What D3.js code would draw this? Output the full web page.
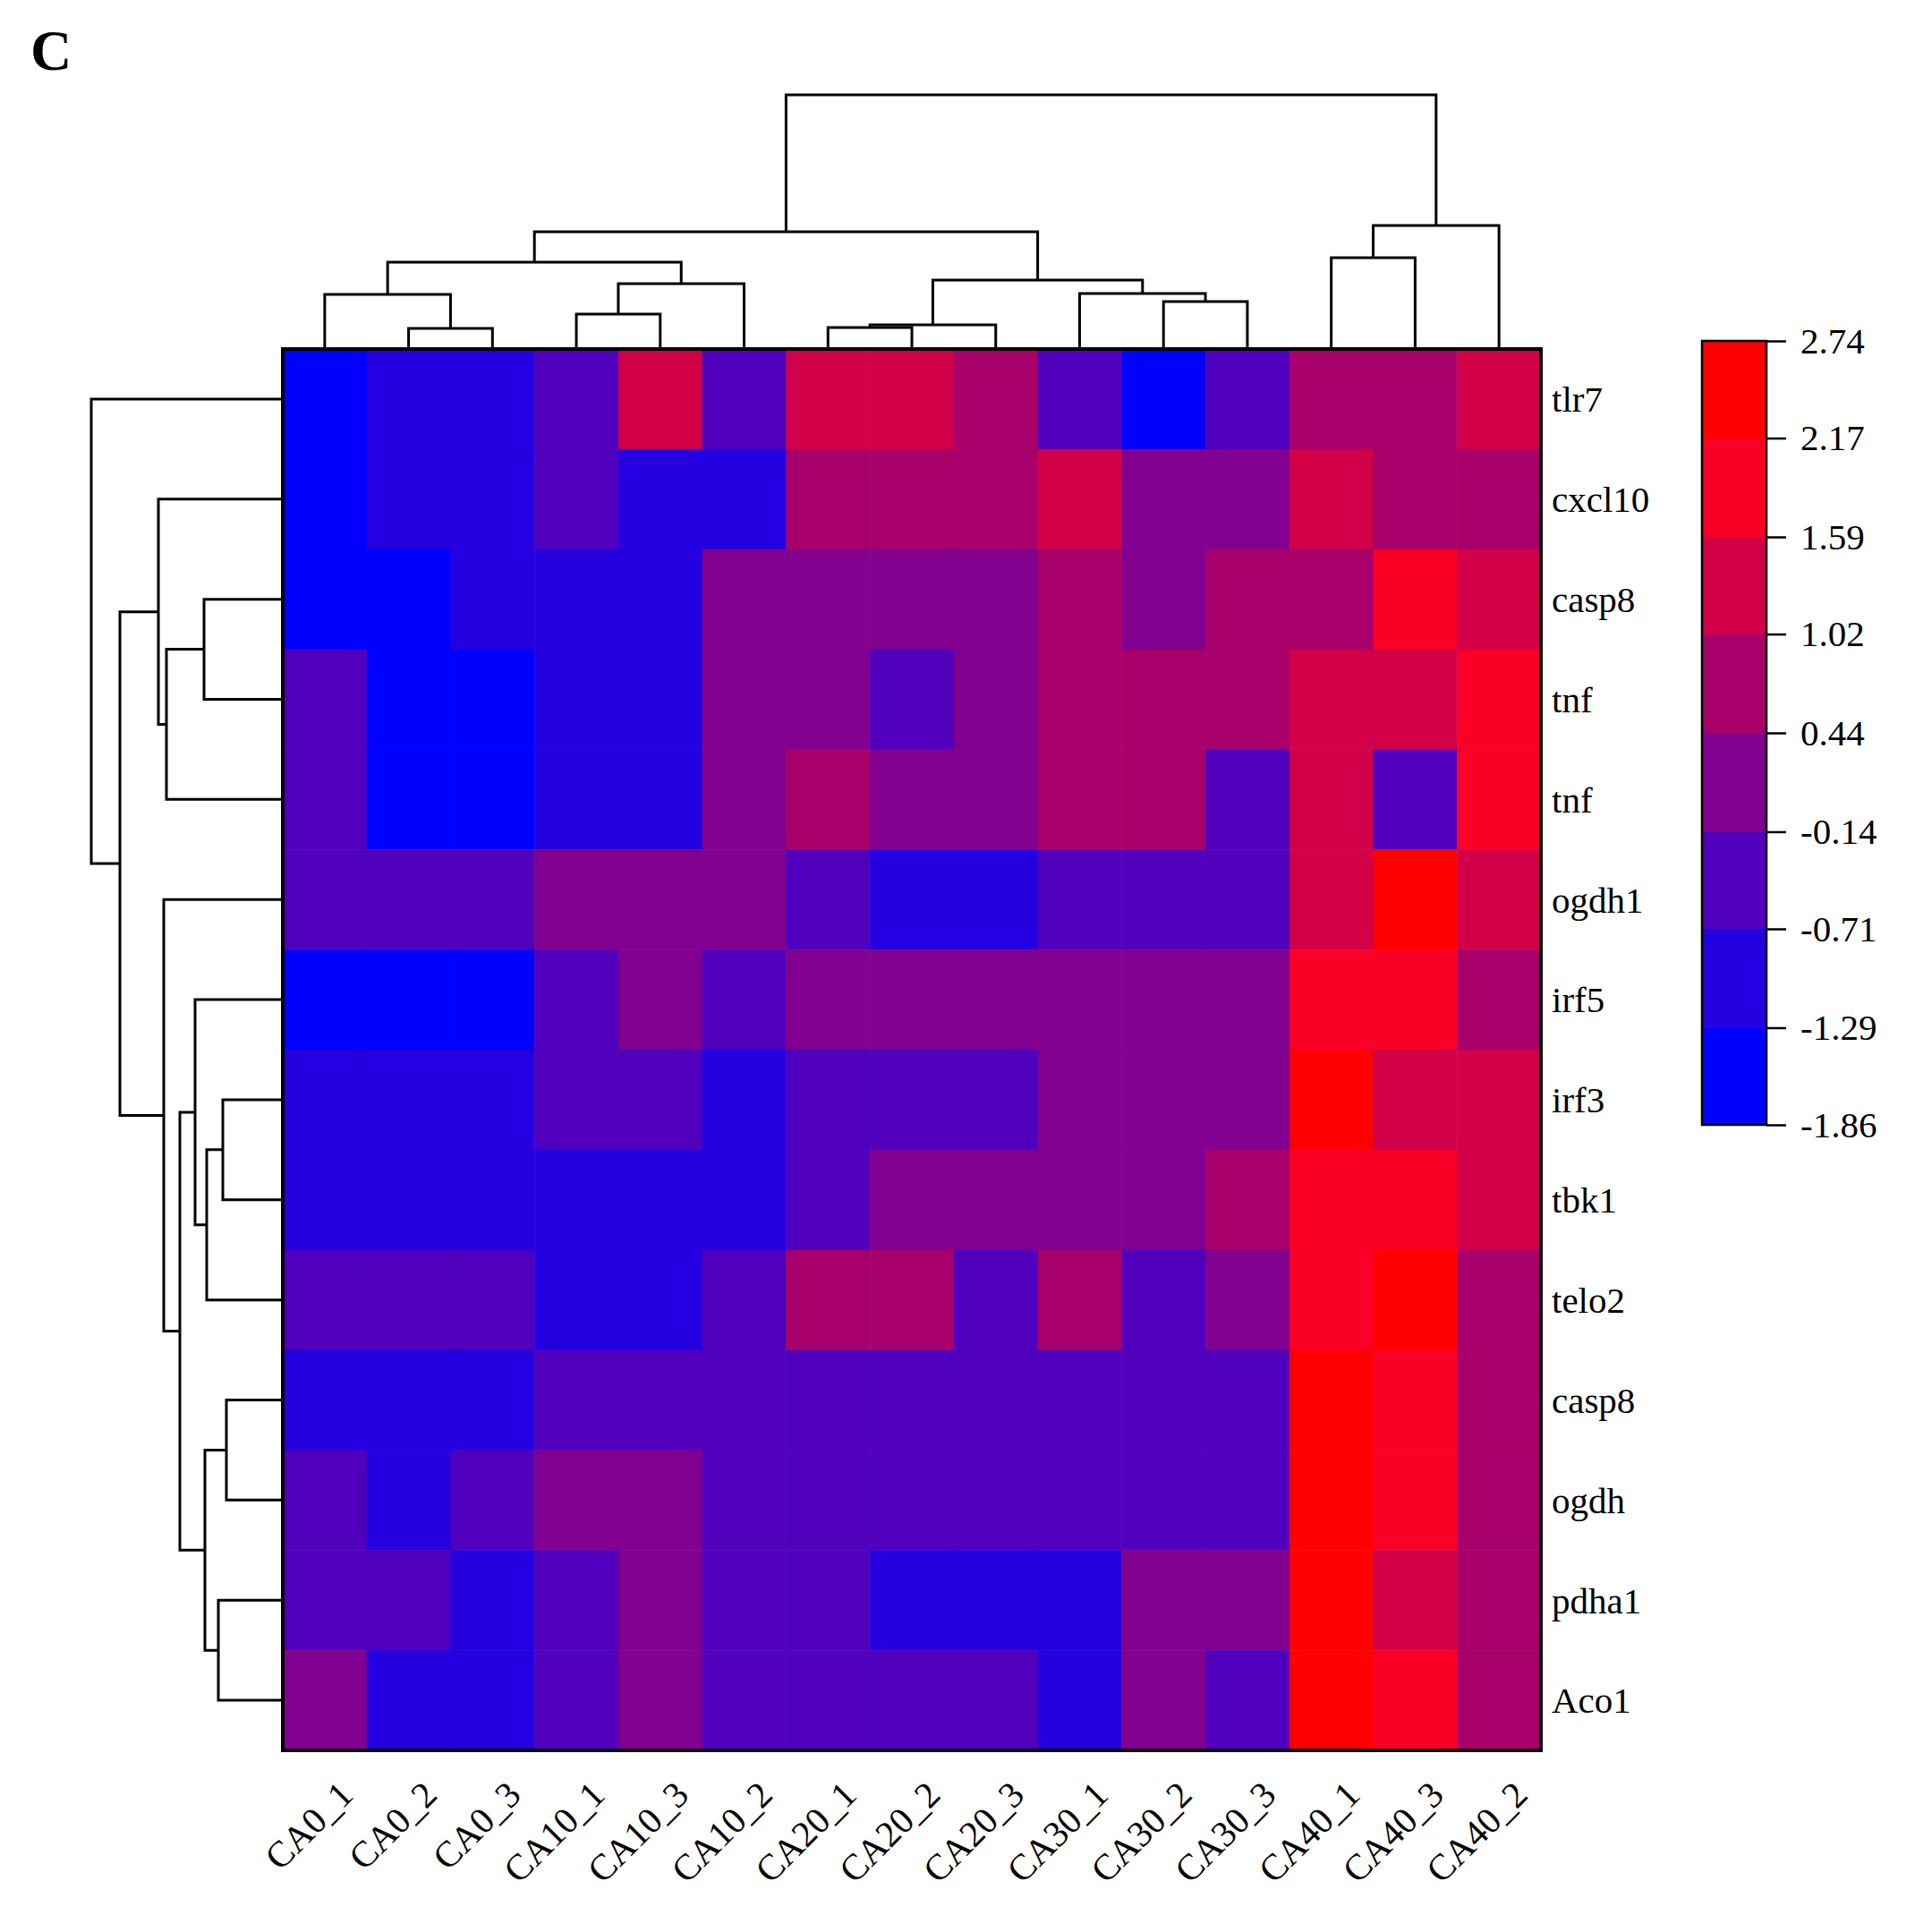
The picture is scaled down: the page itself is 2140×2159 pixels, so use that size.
<!DOCTYPE html>
<html>
<head>
<meta charset="utf-8">
<script src="https://cdn.jsdelivr.net/npm/d3@7"></script>
<style>
  body { margin: 0; background: #fff; }
  text { font-family: "Liberation Serif", "Times New Roman", serif; }
</style>
</head>
<body>
<svg id="chart" width="2140" height="2159"></svg>
<script>
// columns, in dendrogram order
const samples = ["CA0_1", "CA0_2", "CA0_3", "CA10_1", "CA10_3", "CA10_2", "CA20_1", "CA20_2",
    "CA20_3", "CA30_1", "CA30_2", "CA30_3", "CA40_1", "CA40_3", "CA40_2"];
// rows, in dendrogram order
const genes = ["tlr7", "cxcl10", "casp8", "tnf", "tnf", "ogdh1", "irf5", "irf3", "tbk1",
    "telo2", "casp8", "ogdh", "pdha1", "Aco1"];

// legend breaks
const breaks = [-1.86, -1.29, -0.71, -0.14, 0.44, 1.02, 1.59, 2.17, 2.74];
const binColors = ["#0000ff", "#2400e0", "#5000bd", "#81008f", "#a8006a", "#d10048", "#fa0026", "#ff0000"];

// z-scores (one row per gene)
const tlr7   = [-1.6, -1.0, -1.0, -0.4, 1.3, -0.4, 1.3, 1.3, 0.7, -0.4, -1.6, -0.4, 0.7, 0.7, 1.3];
const cxcl10 = [-1.6, -1.0, -1.0, -0.4, -1.0, -1.0, 0.7, 0.7, 0.7, 1.3, 0.1, 0.1, 1.3, 0.7, 0.7];
const casp8a = [-1.6, -1.6, -1.0, -1.0, -1.0, 0.1, 0.1, 0.1, 0.1, 0.7, 0.1, 0.7, 0.7, 1.9, 1.3];
const tnfA   = [-0.4, -1.6, -1.6, -1.0, -1.0, 0.1, 0.1, -0.4, 0.1, 0.7, 0.7, 0.7, 1.3, 1.3, 1.9];
const tnfB   = [-0.4, -1.6, -1.6, -1.0, -1.0, 0.1, 0.7, 0.1, 0.1, 0.7, 0.7, -0.4, 1.3, -0.4, 1.9];
const ogdh1  = [-0.4, -0.4, -0.4, 0.1, 0.1, 0.1, -0.4, -1.0, -1.0, -0.4, -0.4, -0.4, 1.3, 2.5, 1.3];
const irf5   = [-1.6, -1.6, -1.6, -0.4, 0.1, -0.4, 0.1, 0.1, 0.1, 0.1, 0.1, 0.1, 1.9, 1.9, 0.7];
const irf3   = [-1.0, -1.0, -1.0, -0.4, -0.4, -1.0, -0.4, -0.4, -0.4, 0.1, 0.1, 0.1, 2.5, 1.3, 1.3];
const tbk1   = [-1.0, -1.0, -1.0, -1.0, -1.0, -1.0, -0.4, 0.1, 0.1, 0.1, 0.1, 0.7, 1.9, 1.9, 1.3];
const telo2  = [-0.4, -0.4, -0.4, -1.0, -1.0, -0.4, 0.7, 0.7, -0.4, 0.7, -0.4, 0.1, 1.9, 2.5, 0.7];
const casp8b = [-1.0, -1.0, -1.0, -0.4, -0.4, -0.4, -0.4, -0.4, -0.4, -0.4, -0.4, -0.4, 2.5, 1.9, 0.7];
const ogdh   = [-0.4, -1.0, -0.4, 0.1, 0.1, -0.4, -0.4, -0.4, -0.4, -0.4, -0.4, -0.4, 2.5, 1.9, 0.7];
const pdha1  = [-0.4, -0.4, -1.0, -0.4, 0.1, -0.4, -0.4, -1.0, -1.0, -1.0, 0.1, 0.1, 2.5, 1.3, 0.7];
const aco1   = [0.1, -1.0, -1.0, -0.4, 0.1, -0.4, -0.4, -0.4, -0.4, -1.0, 0.1, -0.4, 2.5, 1.9, 0.7];
const values = [tlr7, cxcl10, casp8a, tnfA, tnfB, ogdh1, irf5, irf3, tbk1, telo2, casp8b, ogdh, pdha1, aco1];

// merges: [left, right, height]; leaves 0..n-1, new nodes n, n+1, ...
const colMerges = [[1, 2, 23], [0, 15, 61], [3, 4, 39], [5, 17, 73], [16, 18, 97], [6, 7, 24],
    [8, 20, 27], [10, 11, 53], [9, 22, 62], [21, 23, 77], [19, 24, 131], [12, 13, 102],
    [14, 26, 138], [25, 27, 284]];
const rowMerges = [[2, 3, 88], [4, 14, 130], [1, 15, 139], [7, 8, 67], [9, 17, 85], [6, 18, 98],
    [10, 11, 63], [12, 13, 72], [20, 21, 87], [19, 22, 115], [5, 23, 133], [16, 24, 182], [0, 25, 214]];

const svg = d3.select("#chart");
const hm = {left: 316, top: 390, width: 1406, height: 1566};

let x = d3.scaleBand().domain(d3.range(samples.length)).range([hm.left, hm.left + hm.width]);
let y = d3.scaleBand().domain(d3.range(genes.length)).range([hm.top, hm.top + hm.height]);
let color = d3.scaleThreshold().domain(breaks.slice(1, -1)).range(binColors);

// cells
let cells = [];
values.forEach((row, i) => row.forEach((v, j) => cells.push({i: i, j: j, v: v})));
svg.append("g").selectAll("rect").data(cells).join("rect")
    .attr("x", d => x(d.j)).attr("y", d => y(d.i))
    .attr("width", x.bandwidth() + 0.5).attr("height", y.bandwidth() + 0.5)
    .attr("fill", d => color(d.v));

svg.append("rect")
    .attr("x", hm.left).attr("y", hm.top).attr("width", hm.width).attr("height", hm.height)
    .attr("fill", "none").attr("stroke", "#000").attr("stroke-width", 4);

/**
 * draw an elbow dendrogram from a merge list
 * pos(k) gives the leaf centre, h(d) maps height to the other axis
 */
function dendro(merges, nLeaves, pos, h, vertical) {
    let nodes = d3.range(nLeaves).map(k => ({c: pos(k), h: 0}));
    let g = svg.append("g").attr("fill", "none").attr("stroke", "#000").attr("stroke-width", 3);
    merges.forEach(m => {
        let a = nodes[m[0]], b = nodes[m[1]];
        let p = vertical
            ? `M${a.c},${h(a.h)}V${h(m[2])}H${b.c}V${h(b.h)}`
            : `M${h(a.h)},${a.c}H${h(m[2])}V${b.c}H${h(b.h)}`;
        g.append("path").attr("d", p);
        nodes.push({c: (a.c + b.c) / 2, h: m[2]});
    });
}

let colH = d3.scaleLinear().domain([0, 284]).range([hm.top, hm.top - 284]);
dendro(colMerges, samples.length, k => x(k) + x.bandwidth() / 2, colH, true);
let rowH = d3.scaleLinear().domain([0, 214]).range([hm.left, hm.left - 214]);
dendro(rowMerges, genes.length, k => y(k) + y.bandwidth() / 2, rowH, false);

// row labels
svg.append("g").selectAll("text").data(genes).join("text")
    .attr("x", hm.left + hm.width + 12)
    .attr("y", (d, i) => y(i) + y.bandwidth() / 2)
    .attr("dy", "0.35em")
    .attr("font-size", 41)
    .text(d => d);

// column labels
svg.append("g").selectAll("text").data(samples).join("text")
    .attr("text-anchor", "end")
    .attr("font-size", 41)
    .attr("transform", (d, i) => `translate(${x(i) + x.bandwidth() / 2 + 34},${hm.top + hm.height + 52}) rotate(-45)`)
    .text(d => d);

// legend
let lg = {left: 1902, width: 72, top: 381, bottom: 1257};
let ly = d3.scaleLinear().domain([breaks[0], breaks[breaks.length - 1]]).range([lg.bottom, lg.top]);
svg.append("g").selectAll("rect").data(binColors).join("rect")
    .attr("x", lg.left).attr("width", lg.width)
    .attr("y", (d, i) => ly(breaks[i + 1]))
    .attr("height", (d, i) => ly(breaks[i]) - ly(breaks[i + 1]) + 0.5)
    .attr("fill", d => d);
svg.append("rect")
    .attr("x", lg.left).attr("y", lg.top).attr("width", lg.width).attr("height", lg.bottom - lg.top)
    .attr("fill", "none").attr("stroke", "#000").attr("stroke-width", 2.5);
let axis = d3.axisRight(ly).tickValues(breaks).tickFormat(d => d.toFixed(2)).tickSize(22).tickPadding(16);
let ag = svg.append("g").attr("transform", `translate(${lg.left + lg.width},0)`).call(axis);
ag.select(".domain").remove();
ag.selectAll("line").attr("stroke-width", 2.5);
ag.selectAll("text").attr("font-size", 41).attr("font-family", "Liberation Serif").attr("fill", "#000");

// panel letter
svg.append("text").attr("x", 34).attr("y", 78)
    .attr("font-size", 64).attr("font-weight", "bold").text("C");
</script>
</body>
</html>
